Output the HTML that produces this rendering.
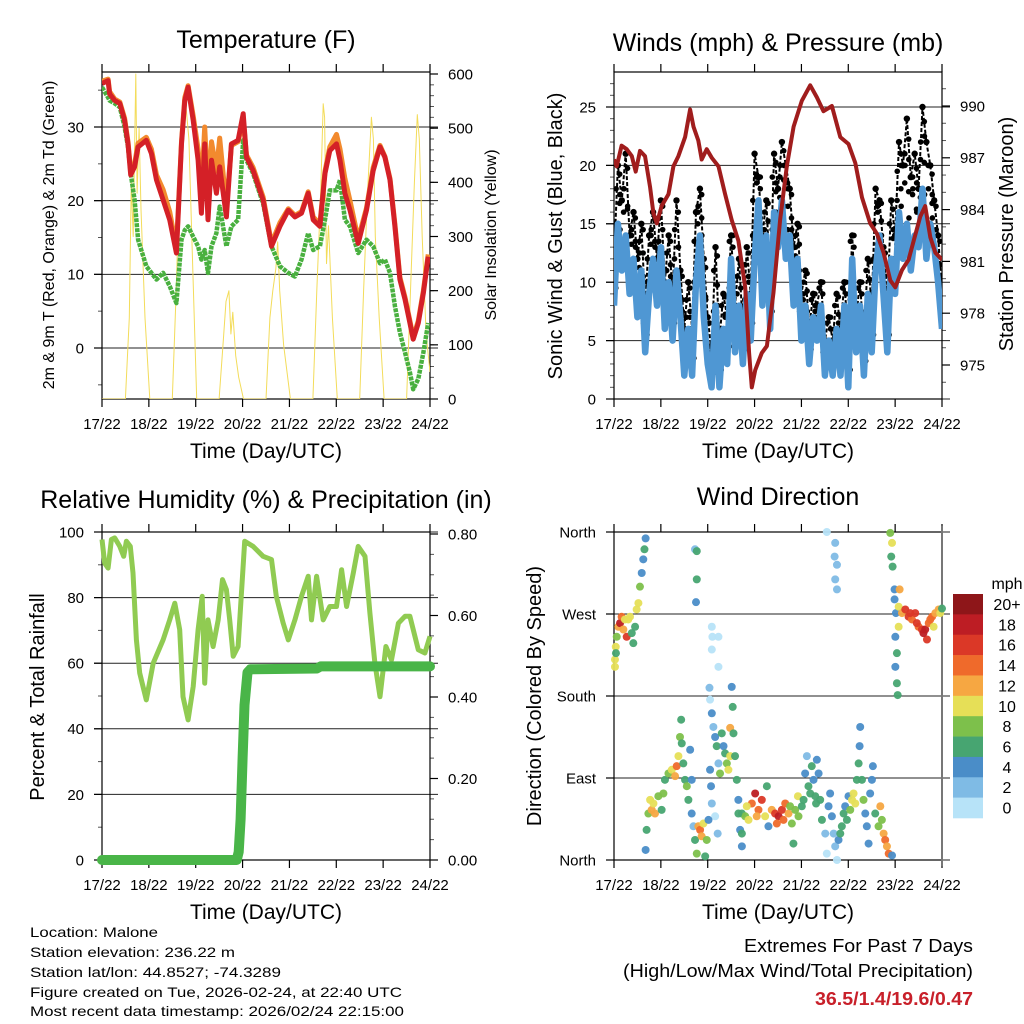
<!DOCTYPE html>
<html><head><meta charset="utf-8"><title>Station Meteogram</title>
<style>
html,body{margin:0;padding:0;background:#fff;}
svg{display:block;font-family:"Liberation Sans",Arial,sans-serif;}
</style></head>
<body>
<svg id="fig" xmlns="http://www.w3.org/2000/svg" width="1024" height="1024" viewBox="0 0 1024 1024">
<rect x="0" y="0" width="1024" height="1024" fill="#fff"/>
<defs>
<clipPath id="c1"><rect x="102" y="72" width="328" height="327"/></clipPath>
<clipPath id="c2"><rect x="614" y="72" width="328" height="327"/></clipPath>
<clipPath id="c3"><rect x="96" y="526" width="340" height="340"/></clipPath>
<clipPath id="c4"><rect x="606" y="526" width="340" height="340"/></clipPath>
</defs>
<text x="266" y="48" font-size="25" text-anchor="middle">Temperature (F)</text>
<text x="778" y="51" font-size="25" text-anchor="middle">Winds (mph) &amp; Pressure (mb)</text>
<text x="266" y="508" font-size="25" text-anchor="middle">Relative Humidity (%) &amp; Precipitation (in)</text>
<text x="778" y="505" font-size="25" text-anchor="middle">Wind Direction</text>

<text x="266" y="458" font-size="21" text-anchor="middle">Time (Day/UTC)</text>
<text x="778" y="458" font-size="21" text-anchor="middle">Time (Day/UTC)</text>
<text x="266" y="919" font-size="21" text-anchor="middle">Time (Day/UTC)</text>
<text x="778" y="919" font-size="21" text-anchor="middle">Time (Day/UTC)</text>

<text transform="translate(54,235) rotate(-90)" font-size="16" text-anchor="middle">2m &amp; 9m T (Red, Orange) &amp; 2m Td (Green)</text>
<text transform="translate(496,235) rotate(-90)" font-size="16" text-anchor="middle">Solar Insolation (Yellow)</text>
<text transform="translate(562,236) rotate(-90)" font-size="20" text-anchor="middle">Sonic Wind &amp; Gust (Blue, Black)</text>
<text transform="translate(1013,234) rotate(-90)" font-size="20" text-anchor="middle">Station Pressure (Maroon)</text>
<text transform="translate(44,697) rotate(-90)" font-size="20" text-anchor="middle">Percent &amp; Total Rainfall</text>
<text transform="translate(541,696) rotate(-90)" font-size="20" text-anchor="middle">Direction (Colored By Speed)</text>

<g id="footer" font-size="14">
<text x="30" y="937" textLength="128" lengthAdjust="spacingAndGlyphs">Location: Malone</text>
<text x="30" y="957" textLength="205" lengthAdjust="spacingAndGlyphs">Station elevation: 236.22 m</text>
<text x="30" y="977" textLength="251" lengthAdjust="spacingAndGlyphs">Station lat/lon: 44.8527; -74.3289</text>
<text x="30" y="997" textLength="372" lengthAdjust="spacingAndGlyphs">Figure created on Tue, 2026-02-24, at 22:40 UTC</text>
<text x="30" y="1016" textLength="374" lengthAdjust="spacingAndGlyphs">Most recent data timestamp: 2026/02/24 22:15:00</text>
</g>
<text x="973" y="952" font-size="18" text-anchor="end" textLength="229" lengthAdjust="spacingAndGlyphs">Extremes For Past 7 Days</text>
<text x="973" y="977" font-size="18" text-anchor="end" textLength="350" lengthAdjust="spacingAndGlyphs">(High/Low/Max Wind/Total Precipitation)</text>
<text x="973" y="1005" font-size="18" font-weight="bold" fill="#c8202a" text-anchor="end" textLength="158" lengthAdjust="spacingAndGlyphs">36.5/1.4/19.6/0.47</text>
<g id="plots"></g>
</svg>
<script>
// ---------- DATA ----------
const dayLabels = ["17/22","18/22","19/22","20/22","21/22","22/22","23/22","24/22"];
const tempHours = [0,3.1,3.9,6.5,9.1,11.6,13.3,14.7,16.7,18.5,22.7,25.3,27.9,31.3,34.7,38.1,40.7,42.4,44.1,46.7,49.2,50.9,52.6,54.3,56.1,58.6,60.3,63.7,66.3,69.7,72.3,74,77.4,82.5,86.8,91.1,95.4,98.8,102.2,105.6,108.2,111.6,114.2,116.7,120.1,121.9,124.4,127,131.2,135.5,138.9,142.4,144.9,147.5,150,152.6,155.2,157.7,159.4,162,164.6,167.1];
const temp2m = [35.9,36.3,34.5,33.6,33.2,30.9,27.7,23.5,24.6,27.3,28.2,26.4,22.8,20.1,17.4,12.9,27.7,33.6,35.4,30.9,25.5,18.3,27.7,17.4,25.5,21,24.6,17.8,27.7,28.2,31.8,25.9,24.1,20.1,13.8,16.5,18.7,17.8,18.3,21,17.4,16.5,23.7,26.8,27.7,25.5,21,18.7,14.2,18.7,24.1,27.3,25.9,22.8,16.5,9.3,6.6,3.4,1.2,3.4,7.5,12.4];
const temp9m = [36.2,36.5,34.8,33.8,33.4,31.2,28,24,25,27.8,28.6,27,23.5,21.5,18.5,13.5,28,34,35.6,31.5,27,21,30,21,28,24,28.5,19,27.5,28,31,26.2,24.5,20.5,14.2,17,18.9,18,18.5,21.2,17.8,16.8,24,27.3,29,27,23,20,14.8,19,24.5,27.5,26,23,16.8,9.6,6.9,3.7,1.4,3.7,7.8,12.7];
const dewpoint = [35.4,34,33.6,33.2,32.7,30,27.3,23.7,20.1,14.7,11.1,10.2,9.3,10.2,8.4,6.1,14.7,16,16.5,15.1,13.8,12,13.3,10.2,13.8,15.6,19.2,13.8,16.5,17.4,28.2,25.5,23.7,19.6,13.8,11.1,10.2,9.7,12,15.6,13.3,13.8,17.4,21.4,21.4,22.8,17.4,16.5,12.9,14.7,13.8,11.5,12,10.2,5.7,2.1,-0.6,-3.3,-5.6,-4.2,-0.6,3.4];
const solarHours = [0,12,14,15,16,17.3,18,19,20,22,24.5,36,38,40,42,43,44.5,46,48.5,60,62,63.5,65,66,67,68.5,70,72.5,84,86,87.5,89,90,91,93,96.5,108,110,112,113.3,114,115,116,118,120.5,132,134,136,138,139,140,142,144.5,156,158,160,161.5,162.5,164,166,168];
const solarValues = [0,0,150,400,300,600,380,500,350,150,0,0,200,450,560,540,480,300,0,0,100,180,200,120,160,80,40,0,0,150,200,240,290,200,100,0,0,200,380,545,520,250,320,150,0,0,200,380,520,480,300,150,0,0,200,400,525,480,300,120,50];
const windStep = 2;
const windSpeed = [8,15,11,14,9,12,7,11,4,9,12,8,13,6,10,5,11,7,2,6,2,10,14,7,3,1,8,1,6,3,12,4,8,3,9,5,12,17,8,14,6,16,13,17,12,14,8,12,5,8,3,7,5,8,2,5,2,6,2,8,1,12,4,8,2,9,4,11,14,9,4,12,9,16,12,15,11,14,13,18,12,15,13,10,6];
const windGust = [12,20,17,21,14,16,12,15,8,14,16,12,17,10,14,9,17,11,6,10,6,16,18,12,7,4,13,5,9,7,14,8,12,6,13,9,21,19,14,17,10,21,18,22,20,18,13,15,9,11,6,9,8,10,5,7,5,9,6,10,5,14,7,10,5,12,8,18,17,13,8,17,14,22,20,24,19,21,18,25,22,20,17,14,9];
const pressHours = [0,1.4,3.9,6.5,9.1,11.1,13.3,15.9,18.5,20.2,21.9,24.4,27.9,30.4,33,36.4,39,40.7,43.2,44.9,47.5,50.1,53.5,56.9,60.3,63.7,67.2,69.2,70.6,72.3,75.7,78.3,81.7,85.1,88.5,92,96.2,100.5,103.9,107.3,111.6,115.9,120.1,123.6,127,131.2,134.7,138.1,141.5,144.1,147.5,150.9,153.5,156.9,159.4,162,164.6,168];
const pressValues = [986.9,986.5,987.7,987.5,987.1,986.2,987.4,987.1,985.3,983.8,983.2,984.2,984.9,986.5,987.1,988.2,989.8,988.8,988,986.9,987.5,987,986.5,984.9,983.4,982.2,979.5,975.7,973.7,974.7,975.7,976.1,979.2,983.4,986.5,988.8,990.3,991.2,990.5,989.7,990,988.2,987.8,986.7,984.7,983.2,982.6,981.5,979.9,979.5,980.5,981.1,982.2,983.6,984.2,982.4,981.5,981.1];
const rhHours = [0,1.4,3.1,4.8,6.5,9.1,11.1,12.5,14.5,15.9,17.6,19.3,21,22.7,26.2,31.3,34.7,37.3,39.8,41.5,44.1,46.7,49.2,51.3,52.6,54.3,56.9,59.5,61.7,63.7,65.4,67.2,69.7,73.1,77.4,82.5,86.8,89.3,92.8,95.4,98.8,102.2,105.6,107.3,109.9,113.3,116.7,120.1,122.7,125.3,128.7,131.2,134.7,137.2,139.8,142.4,145.4,148.3,151.8,155.2,157.7,162,165.4,168];
const rhValues = [97.7,90.5,89,97.7,98.2,95.6,92.6,97.2,95.6,87.5,67.1,57,52.9,48.8,60,67.1,73.2,78.3,70.2,49.8,42.7,52.9,70.2,80.4,53.9,73.2,65.1,73.2,85.5,82.4,73.2,62.1,65.1,97.2,95.6,92.6,91.6,80.4,72.2,67.1,73.2,80.4,86.5,73.2,86.5,73.2,77.3,77.3,88.5,77.3,87.5,95.6,92.6,75.3,60,49.8,65.1,61,72.2,74.3,74.3,64.1,63.1,68.2];
const precipHours = [0,69,70,71,72,73,74.5,76,110,112,168];
const precipValues = [0,0,0.02,0.1,0.25,0.38,0.46,0.468,0.47,0.475,0.475];
const dirObs = [
[0.5,212,10],[0.5,220,10],[0.9,234,10],[1,227,6],[1.4,245,9],[2.2,256,12],[3.1,260,18],[3.9,267,14],[4.8,253,12],[5.6,264,11],[6.5,245,16],[7.3,264,10],[8.2,267,10],[9.1,249,7],[9.9,238,6],[10.8,256,7],[11.6,275,11],[12.5,282,10],[13.3,300,8],[14.2,315,4],[15,330,4],[15.6,341,6],[16.2,353,4],
[16.2,11,4],[16.7,33,6],[17.6,51,8],[18.5,66,10],[19.3,55,12],[20.2,62,11],[21,51,12],[22.7,70,8],[24.4,55,6],[25.3,73,9],[26.1,88,7],[27.9,95,8],[29.6,99,10],[31.3,92,12],[32.1,103,14],[33,114,11],[33.8,135,8],[34.4,154,6],[34.7,128,7],[35.5,106,6],[36.4,88,6],[37.3,81,8],[38.1,66,6],[39,121,4],[39.8,88,4],[39.8,51,4],[40.7,37,2],[41.5,22,6],[42.4,7,8],[43.2,37,12],[44.1,33,14],[44.9,26,12],[45.8,40,10],[46.7,4,7],[47.5,22,8],
[41.5,341,2],[42.4,339,6],[42.4,308,6],[42,283,4],
[50.1,256,1],[50.4,245,1],[53.5,245,1],[50.1,231,1],[53.5,212,1],[48.9,189,2],[49.2,176,1],[50.1,161,4],[50.9,146,2],[51.8,135,4],[52.6,125,6],[53.5,106,2],[54.3,95,8],[55.2,139,6],[56.1,125,5],[56.9,117,7],[57.8,106,8],[58.6,99,10],[59.5,145,12],[59.5,114,10],[60.3,190,4],[60.8,168,6],[61.2,139,6],[62,114,6],[62.9,88,6],[63.7,66,5],[64.6,33,4],[65.5,51,7],[49.7,81,4],[51.8,48,1],[53.1,29,3],[48.4,44,5],[49.2,99,4],[50.1,62,3],
[67.2,48,8],[68.9,44,10],[70.6,62,14],[72.3,73,18],[74,55,14],[75.7,66,16],[77.4,48,10],[78.3,81,6],[79.1,37,5],[80.8,55,12],[82.5,51,16],[84.3,48,18],[86,55,16],[87.7,62,15],[89.4,51,12],[91.1,40,9],[91.9,18,7],[92.8,55,8],[94.2,70,10],[94.5,48,9],[96.2,59,7],[65.5,29,6],[63.7,51,6],[68,59,10],[73.1,48,12],[83.4,40,14],[86.8,44,14],[90.2,59,8],[65.5,15,4],
[97.9,95,4],[98.8,114,2],[99.6,81,6],[101.3,103,6],[102.2,88,5],[103.1,70,6],[103.9,110,4],[104.8,95,4],[105.6,66,6],[106.5,44,6],[97.1,66,6],[100.5,73,6],[103.5,62,6],
[108.2,29,2],[109,7,1],[109.9,59,4],[110.7,73,4],[111.6,48,4],[112.5,29,2],[113.3,15,2],[114.2,0,1],[115,22,4],[115.9,29,6],[116.7,37,7],[117.6,51,6],[118.4,59,4],[119.3,44,6],[120.1,70,4],[121,55,8],[121.9,66,10],[122.7,73,11],[123.6,62,11],[124.4,88,6],[125.3,106,6],[125.8,125,4],[126.1,146,4],[127,88,6],[127.8,66,8],[128.7,51,5],[129.5,37,5],[130.4,18,4],[131.2,73,4],[132.1,88,4],[132.6,103,4],[133.8,51,6],[135.5,37,8],[136.4,59,12],[137.2,44,9],[138.1,29,12],[138.9,22,14],[139.8,15,12],[140.7,7,15],[142.4,5,4],
[109,360,1],[113.3,348,2],[113,333,2],[114.2,324,2],[113.3,308,2],[114.2,297,2],
[141.5,359,8],[142.4,348,10],[142,333,6],[142.7,322,6],[143.7,297,4],[143.7,286,4],[144.4,271,4],[144.1,245,4],[144.9,227,6],[144.1,212,4],[144.9,194,6],[145.3,181,6],[146.3,297,12],[145.8,278,10],[145.8,256,10],[147.5,271,12],[149.2,275,17],[150.9,267,16],[152.6,264,15],[154.3,271,16],[156,256,15],[157.7,253,17],[159.4,253,19],[160.3,242,16],[161.2,260,15],[162.9,267,14],[163.7,256,10],[164.6,271,12],[166.3,275,12],[167.1,271,10],[168,276,6],[151.7,271,16],[155.1,260,17],[158.5,249,18],[162,264,14]
];
const speedLabels = ["0","2","4","6","8","10","12","14","16","18","20+"];
const speedColors = ['#b7e3f8','#7fbbe5','#4a8dc8','#47a571','#7dc04b','#e6df57','#f6a742','#ef6a2b','#db3827','#bd1d24','#8e1619'];

// ---------- HELPERS ----------
const NS = "http://www.w3.org/2000/svg";
const root = document.getElementById('plots');
function mk(tag, attrs, parent){
  const e = document.createElementNS(NS, tag);
  for (const k in attrs) e.setAttribute(k, attrs[k]);
  (parent || root).appendChild(e);
  return e;
}
function lin(d0, d1, r0, r1){ return v => r0 + (v - d0) / (d1 - d0) * (r1 - r0); }
function pathD(xs, ys, fx, fy){
  let d = '';
  for (let i = 0; i < xs.length; i++) d += (i ? 'L' : 'M') + fx(xs[i]).toFixed(1) + ',' + fy(ys[i]).toFixed(1);
  return d;
}

function frame(p, name){
  const g = mk('g', {});
  
  
  const sx = lin(0, 168, p.x0, p.x1);
  for (let i = 0; i < dayLabels.length; i++){
    const x = sx(i * 24);
    const t1 = mk('line', {x1:x, x2:x, y1:p.y1, y2:p.y1 + 8, stroke:'#000', 'stroke-width':1.2}, g);
    
    
    const t2 = mk('line', {x1:x, x2:x, y1:p.y0, y2:p.y0 - 8, stroke:'#000', 'stroke-width':1.2}, g);
    
    
    const lb = mk('text', {x:x, y:p.y1 + 30, 'font-size':15, 'text-anchor':'middle'}, g);
    lb.textContent = dayLabels[i];
    
    
  }
  return g;
}
function yAxis(g, p, side, scale, majors, minors, labels, grid, gx0, gx1){
  const x = side === 'left' ? p.x0 : p.x1;
  const dir = side === 'left' ? -1 : 1;
  for (const v of minors){
    const y = scale(v);
    const t = mk('line', {x1:x, x2:x + dir * 4, y1:y, y2:y, stroke:'#555', 'stroke-width':1}, g);
    
    
  }
  majors.forEach((v, i) => {
    const y = scale(v);
    if (grid){
      const gl = mk('line', {x1:gx0, x2:gx1, y1:y, y2:y, stroke:'#222', 'stroke-width':1}, g);
      
      
    }
    const t = mk('line', {x1:x, x2:x + dir * 8, y1:y, y2:y, stroke:'#000', 'stroke-width':1.2}, g);
    
    
    const lb = mk('text', {x: side === 'left' ? x - 18 : x + 18, y:y, dy:'0.36em', 'font-size':15, 'text-anchor': side === 'left' ? 'end' : 'start'}, g);
    lb.textContent = labels[i];
    
    
  });
}
function box(g, p, stroke){
  const r = mk('rect', {x:p.x0, y:p.y0, width:p.x1 - p.x0, height:p.y1 - p.y0, fill:'none', stroke:stroke || '#000', 'stroke-width':1.2}, g);
  
  
}
function range(a, b, s){ const o = []; for (let v = a; v <= b + 1e-9; v += s) o.push(+v.toFixed(4)); return o; }

// ---------- PANEL 1: TEMPERATURE ----------
(function(){
  const p = {x0:102, x1:430, y0:72, y1:399};
  const sx = lin(0, 168, p.x0, p.x1);
  const sy = lin(0, 30, 348, 127);
  const ss = lin(0, 600, 399, 74);
  const g = frame(p, 'temperature');
  yAxis(g, p, 'left', sy, [0,10,20,30], [-5,5,15,25,35], ['0','10','20','30'], true, 94, 438);
  yAxis(g, p, 'right', ss, [0,100,200,300,400,500,600], range(20,580,20), ['0','100','200','300','400','500','600'], false);
  const d = mk('g', {'clip-path':'url(#c1)'});
  
  
  const sol = mk('path', {d:pathD(solarHours, solarValues, sx, ss), fill:'none', stroke:'#f3dc5a', 'stroke-width':1, 'stroke-linejoin':'round'}, d);
  
  
  const td = mk('path', {d:pathD(tempHours, dewpoint, sx, sy), fill:'none', stroke:'#49b03f', 'stroke-width':4.5, 'stroke-dasharray':'4 1', 'stroke-linejoin':'round'}, d);
  
  
  const t9 = mk('path', {d:pathD(tempHours, temp9m, sx, sy), fill:'none', stroke:'#f28a2e', 'stroke-width':5, 'stroke-linejoin':'round'}, d);
  
  
  const t2 = mk('path', {d:pathD(tempHours, temp2m, sx, sy), fill:'none', stroke:'#d42027', 'stroke-width':5, 'stroke-linejoin':'round'}, d);
  
  
  box(g, p);
})();

// ---------- PANEL 2: WINDS & PRESSURE ----------
(function(){
  const p = {x0:614, x1:942, y0:72, y1:399};
  const sx = lin(0, 168, p.x0, p.x1);
  const sy = lin(0, 25, 399, 107);
  const sp = lin(975, 990, 365, 106);
  const g = frame(p, 'winds');
  yAxis(g, p, 'left', sy, [0,5,10,15,20,25], range(1,27,1).filter(v => v % 5), ['0','5','10','15','20','25'], true, 606, 950);
  yAxis(g, p, 'right', sp, [975,978,981,984,987,990], range(974,991,1).filter(v => (v - 975) % 3), ['975','978','981','984','987','990'], false);
  const windHours = windSpeed.map((v, i) => i * windStep);
  const d = mk('g', {'clip-path':'url(#c2)'});
  
  
  const gl = mk('path', {d:pathD(windHours, windGust, sx, sy), fill:'none', stroke:'#000', 'stroke-width':2, 'stroke-dasharray':'4 2'}, d);
  
  
  for (let i = 0; i < windGust.length; i++){
    const c = mk('circle', {cx:sx(windHours[i]), cy:sy(windGust[i]), r:3.2, fill:'#000'}, d);
    
    
    const span = windGust[i] - windSpeed[i];
    for (let k = 1; k <= 3; k++){
      const c2 = mk('circle', {cx:sx(windHours[i]) + (k % 2 ? 1.8 : -1.8), cy:sy(windSpeed[i] + span * k / 4 + 0.5), r:2.8, fill:'#000'}, d);
      
      
    }
    if (i < windGust.length - 1){
      const c3 = mk('circle', {cx:sx(windHours[i] + windStep / 2), cy:sy((windGust[i] + windGust[i + 1]) / 2 - 1), r:2.8, fill:'#000'}, d);
      
      
    }
  }
  const wl = mk('path', {d:pathD(windHours, windSpeed, sx, sy), fill:'none', stroke:'#4f97d3', 'stroke-width':6.5, 'stroke-linejoin':'round'}, d);
  
  
  const pl = mk('path', {d:pathD(pressHours, pressValues, sx, sp), fill:'none', stroke:'#a01d1d', 'stroke-width':4, 'stroke-linejoin':'round'}, d);
  
  
  box(g, p);
})();

// ---------- PANEL 3: RH & PRECIP ----------
(function(){
  const p = {x0:102, x1:430, y0:532, y1:860};
  const sx = lin(0, 168, p.x0, p.x1);
  const sy = lin(0, 100, 860, 532);
  const sr = lin(0, 0.8, 860, 534);
  const g = frame(p, 'humidity');
  yAxis(g, p, 'left', sy, [0,20,40,60,80,100], [10,30,50,70,90], ['0','20','40','60','80','100'], true, 94, 438);
  yAxis(g, p, 'right', sr, [0,0.2,0.4,0.6,0.8], range(0.05,0.75,0.05).filter((v,i) => (i + 1) % 4), ['0.00','0.20','0.40','0.60','0.80'], false);
  const d = mk('g', {'clip-path':'url(#c3)'});
  
  
  const rl = mk('path', {d:pathD(rhHours, rhValues, sx, sy), fill:'none', stroke:'#90cb52', 'stroke-width':5, 'stroke-linejoin':'round'}, d);
  
  
  const pr = mk('path', {d:pathD(precipHours, precipValues, sx, sr), fill:'none', stroke:'#49b548', 'stroke-width':10, 'stroke-linecap':'round', 'stroke-linejoin':'round'}, d);
  
  
  box(g, p);
})();

// ---------- PANEL 4: WIND DIRECTION ----------
(function(){
  const p = {x0:614, x1:942, y0:532, y1:860};
  const sx = lin(0, 168, p.x0, p.x1);
  const sy = lin(0, 360, 860, 532);
  const g = frame(p, 'direction');
  yAxis(g, p, 'left', sy, [0,90,180,270,360], [], ['North','East','South','West','North'], true, 606, 950);
  const d = mk('g', {'clip-path':'url(#c4)'});
  
  
  for (const o of dirObs){
    const idx = Math.min(10, Math.max(0, Math.floor(o[2] / 2)));
    const c = mk('circle', {cx:sx(o[0]), cy:sy(o[1]), r:4, fill:speedColors[idx], 'fill-opacity':0.95}, d);
    
    
  }
  box(g, p);
  const rl = mk('line', {x1:942, x2:942, y1:526, y2:866, stroke:'#777', 'stroke-width':2}, g);
  
  
  const cb = mk('g', {});
  
  
  const top = 594, bh = (818 - 594) / speedColors.length;
  for (let i = 0; i < speedColors.length; i++){
    const k = speedColors.length - 1 - i;
    const r = mk('rect', {x:953, y:top + i * bh, width:30, height:bh + 0.3, fill:speedColors[k]}, cb);
    
    
    const t = mk('text', {x:1007, y:top + i * bh + bh / 2, dy:'0.36em', 'font-size':16, 'text-anchor':'middle'}, cb);
    t.textContent = speedLabels[k];
    
    
  }
  const u = mk('text', {x:1007, y:589, 'font-size':16, 'text-anchor':'middle'}, cb);
  u.textContent = 'mph';
  
  
})();
</script>
</body></html>
